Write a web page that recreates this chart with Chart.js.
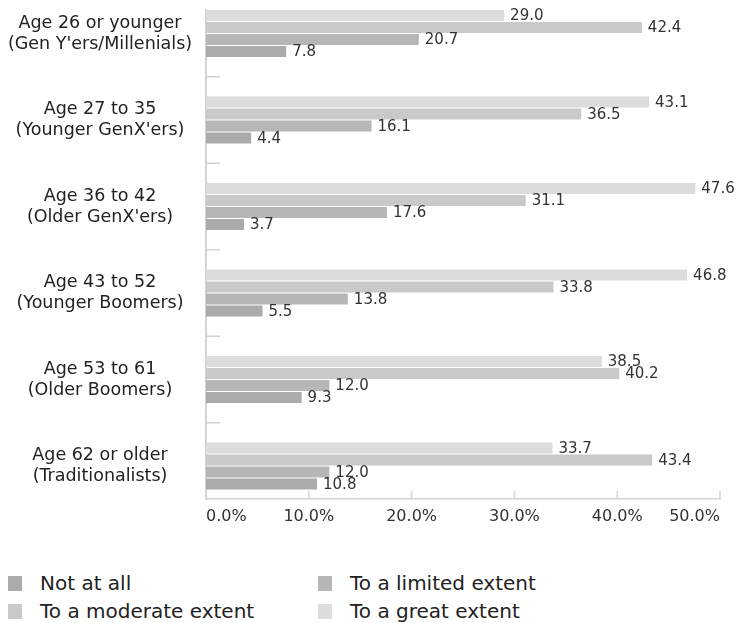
<!DOCTYPE html>
<html>
<head>
<meta charset="utf-8">
<script src="https://cdn.jsdelivr.net/npm/chart.js@4/dist/chart.umd.min.js"></script>
<style>
  html, body { margin: 0; padding: 0; background: #fff; }
  #wrap { position: relative; width: 739px; height: 623px; }
  #c { position: absolute; left: 0; top: 0; }
  #legend {
    position: absolute; left: 8px; top: 569px;
    display: grid; grid-template-columns: 310px 300px;
    font-family: "DejaVu Sans", sans-serif; font-size: 20px; color: #222;
  }
  .item { display: flex; align-items: center; height: 28px; white-space: nowrap; }
  .swatch { width: 14px; height: 15px; margin-right: 18px; flex: none; }
</style>
</head>
<body>
<div id="wrap">
  <canvas id="c" width="739" height="529"></canvas>
  <div id="legend"></div>
</div>
<script>
// Age groups (two-line axis labels), top to bottom
const ageGroups = [
  ["Age 26 or younger", "(Gen Y'ers/Millenials)"],
  ["Age 27 to 35", "(Younger GenX'ers)"],
  ["Age 36 to 42", "(Older GenX'ers)"],
  ["Age 43 to 52", "(Younger Boomers)"],
  ["Age 53 to 61", "(Older Boomers)"],
  ["Age 62 or older", "(Traditionalists)"]
];

// Percent of respondents per answer
const greatExtent    = [29.0, 43.1, 47.6, 46.8, 38.5, 33.7];
const moderateExtent = [42.4, 36.5, 31.1, 33.8, 40.2, 43.4];
const limitedExtent  = [20.7, 16.1, 17.6, 13.8, 12.0, 12.0];
const notAtAll       = [7.8, 4.4, 3.7, 5.5, 9.3, 10.8];

// Percent axis ticks
const percentTicks = [0, 10, 20, 30, 40, 50];

const series = [
  { label: "To a great extent",    values: greatExtent,    color: "#dcdcdc" },
  { label: "To a moderate extent", values: moderateExtent, color: "#c9c9c9" },
  { label: "To a limited extent",  values: limitedExtent,  color: "#b6b6b6" },
  { label: "Not at all",           values: notAtAll,       color: "#ababab" }
];

const labelSize = 17.5;
const measure = document.createElement('canvas').getContext('2d');
measure.font = labelSize + 'px "DejaVu Sans"';
const widestLabel = Math.max(...ageGroups.flat().map(s => measure.measureText(s).width));
const axisWidth = 206;
const labelCenter = 100;

// Inner tick marks, group separators and value labels
const decorations = {
  id: 'decorations',
  afterDatasetsDraw(chart) {
    const { ctx, scales: { x, y }, chartArea } = chart;
    ctx.save();
    ctx.strokeStyle = '#d4d4d4';
    ctx.lineWidth = 1.5;
    ctx.beginPath();
    for (let i = 0; i < ageGroups.length - 1; i++) {
      const py = y.getPixelForValue(i + 0.5);
      ctx.moveTo(chartArea.left, py);
      ctx.lineTo(chartArea.left + 14, py);
    }
    percentTicks.slice(1).forEach(v => {
      const px = x.getPixelForValue(v);
      ctx.moveTo(px, chartArea.bottom);
      ctx.lineTo(px, chartArea.bottom - 8);
    });
    ctx.stroke();

    ctx.font = '15px "DejaVu Sans"';
    ctx.fillStyle = '#333';
    ctx.textAlign = 'left';
    ctx.textBaseline = 'middle';
    chart.data.datasets.forEach((ds, di) => {
      chart.getDatasetMeta(di).data.forEach((bar, i) => {
        ctx.fillText(ds.data[i].x.toFixed(1), bar.x + 6, bar.y + 1);
      });
    });
    ctx.restore();
  }
};

const chart = new Chart(document.getElementById('c'), {
  type: 'bar',
  data: {
    datasets: series.map(s => ({
      label: s.label,
      data: s.values.map((v, i) => ({ x: v, y: i })),
      backgroundColor: s.color,
      borderWidth: 0,
      categoryPercentage: 0.555,
      barPercentage: 0.9
    }))
  },
  options: {
    indexAxis: 'y',
    responsive: false,
    animation: false,
    layout: { padding: { top: 10, right: 19, left: 0, bottom: 0 } },
    plugins: { legend: { display: false }, tooltip: { enabled: false } },
    scales: {
      x: {
        type: 'linear',
        min: 0, max: 50,
        afterBuildTicks: s => { s.ticks = percentTicks.map(v => ({ value: v })); },
        afterFit: s => { s.height = 30; s.paddingLeft = 0; s.paddingRight = 0; },
        grid: { display: false, drawTicks: false },
        border: { display: true, color: '#d4d4d4', width: 1.5 },
        ticks: {
          align: 'inner',
          padding: 8,
          maxRotation: 0,
          color: '#333',
          font: { family: 'DejaVu Sans', size: 16 },
          callback: v => v.toFixed(1) + '%'
        }
      },
      y: {
        type: 'linear',
        reverse: true,
        offset: false,
        min: -0.2717, max: 5.3815,
        afterBuildTicks: s => { s.ticks = ageGroups.map((_, i) => ({ value: i })); },
        afterFit: s => { s.width = axisWidth; s.paddingTop = 0; s.paddingBottom = 0; },
        grid: { display: false, drawTicks: false, offset: false },
        border: { display: true, color: '#d4d4d4', width: 2 },
        ticks: {
          autoSkip: false,
          crossAlign: 'center',
          padding: axisWidth - labelCenter - widestLabel / 2,
          color: '#222',
          font: { family: 'DejaVu Sans', size: labelSize, lineHeight: 1.2 },
          callback: v => ageGroups[v]
        }
      }
    }
  },
  plugins: [decorations]
});

// Legend in two columns: Not at all, limited / moderate, great
const legend = document.getElementById('legend');
chart.data.datasets.slice().reverse().forEach(ds => {
  const item = document.createElement('div');
  item.className = 'item';
  const sw = document.createElement('span');
  sw.className = 'swatch';
  sw.style.background = ds.backgroundColor;
  const txt = document.createElement('span');
  txt.textContent = ds.label;
  item.appendChild(sw);
  item.appendChild(txt);
  legend.appendChild(item);
});
</script>
</body>
</html>
